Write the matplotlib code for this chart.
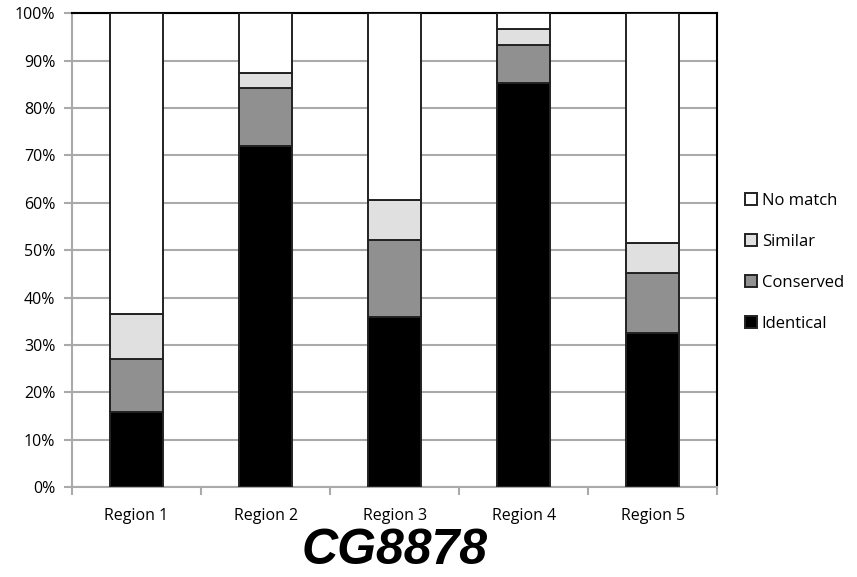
import matplotlib.pyplot as plt
import numpy as np
from matplotlib.ticker import PercentFormatter, FixedLocator

regions = ['Region 1', 'Region 2', 'Region 3', 'Region 4', 'Region 5']
identical = [15.8, 71.9, 35.9, 85.2, 32.5]
conserved = [11.2, 12.3, 16.2, 8.0, 12.6]
similar = [9.5, 3.1, 8.4, 3.4, 6.4]
no_match = [100 - a - b - c for a, b, c in zip(identical, conserved, similar)]

series = [('Identical', identical, '#000000'),
          ('Conserved', conserved, '#909090'),
          ('Similar', similar, '#e0e0e0'),
          ('No match', no_match, '#ffffff')]

plt.rcParams['font.family'] = ['Open Sans', 'DejaVu Sans']

fig = plt.figure(figsize=(8.57, 5.77), dpi=100)
ax = fig.add_axes([0.084, 0.156, 0.753, 0.821])

x = np.arange(len(regions))
bottom = np.zeros(len(regions))
handles = []
for name, vals, color in series:
    b = ax.bar(x, vals, width=0.41, bottom=bottom, color=color,
               edgecolor='#222222', linewidth=1.4, label=name, zorder=3)
    handles.append(b)
    bottom += np.array(vals)

ax.set_xlim(-0.5, len(regions) - 0.5)
ax.set_ylim(0, 100)
ax.set_yticks(np.arange(0, 101, 10))
ax.yaxis.set_major_formatter(PercentFormatter(decimals=0))
ax.yaxis.grid(True, color='#aaaaaa', linewidth=1.5, zorder=0)

ax.set_xticks(x)
ax.set_xticklabels(regions)
ax.xaxis.set_minor_locator(FixedLocator(np.arange(-0.5, len(regions), 1.0)))
ax.tick_params(axis='x', which='major', length=0, pad=15, labelsize=11.5)
ax.tick_params(axis='x', which='minor', length=6, color='#aaaaaa', width=1.5)
ax.tick_params(axis='y', length=6, color='#aaaaaa', width=1.5, labelsize=11.5, pad=6)

for side in ['left', 'bottom']:
    ax.spines[side].set_color('#aaaaaa')
    ax.spines[side].set_linewidth(1.5)
for side in ['top', 'right']:
    ax.spines[side].set_color('#000000')
    ax.spines[side].set_linewidth(1.5)

leg = fig.legend(handles[::-1], [s[0] for s in series][::-1],
                 loc='center left', bbox_to_anchor=(0.852, 0.545),
                 frameon=False, fontsize=12, handlelength=0.7,
                 handleheight=0.7, handletextpad=0.3, labelspacing=1.5)

fig.text(0.46, 0.045, 'CG8878', ha='center', va='center',
         family='Liberation Sans', fontsize=36, fontweight='bold', style='italic')

fig.savefig('out.png', dpi=100)
